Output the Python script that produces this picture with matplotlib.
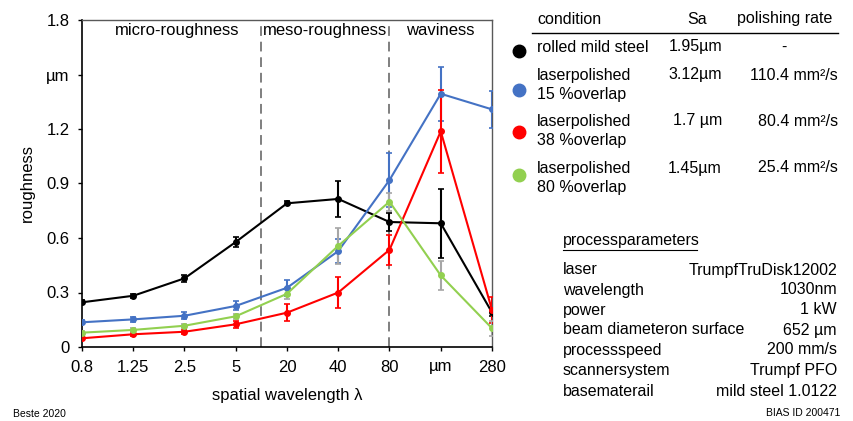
import numpy as np
import matplotlib.pyplot as plt
from matplotlib.lines import Line2D

plt.rcParams['font.family'] = ['Liberation Sans', 'DejaVu Sans']

# spatial wavelength categories
wavelengths = ['0.8', '1.25', '2.5', '5', '20', '40', '80', 'µm', '280']

rolled = [0.246, 0.282, 0.378, 0.578, 0.791, 0.815, 0.688, 0.681, 0.190]
rolled_err = [0.01, 0.01, 0.02, 0.03, 0.01, 0.10, 0.05, 0.19, 0.02]

lp15 = [0.136, 0.152, 0.172, 0.226, 0.326, 0.528, 0.919, 1.394, 1.308]
lp15_err = [0.01, 0.015, 0.02, 0.025, 0.045, 0.065, 0.147, 0.15, 0.10]

lp38 = [0.048, 0.070, 0.084, 0.125, 0.189, 0.300, 0.535, 1.187, 0.204]
lp38_err = [0.01, 0.01, 0.01, 0.02, 0.046, 0.085, 0.082, 0.23, 0.07]

lp80 = [0.079, 0.094, 0.117, 0.169, 0.293, 0.557, 0.800, 0.394, 0.103]
lp80_err = [0.01, 0.01, 0.01, 0.015, 0.03, 0.10, 0.05, 0.08, 0.04]

yticks = [0, 0.3, 0.6, 0.9, 1.2, 1.5, 1.8]
ytick_labels = ['0', '0.3', '0.6', '0.9', '1.2', 'µm', '1.8']

conditions = ['rolled mild steel', 'laserpolished\n15 %overlap',
              'laserpolished\n38 %overlap', 'laserpolished\n80 %overlap']
sa_values = ['1.95µm', '3.12µm', '1.7 µm', '1.45µm']
rates = ['-', '110.4 mm²/s', '80.4 mm²/s', '25.4 mm²/s']
colors = ['black', '#4472C4', '#FF0000', '#92D050']
err_colors = ['black', '#4472C4', '#FF0000', '#A6A6A6']

param_names = ['laser', 'wavelength', 'power', 'beam diameteron surface',
               'processspeed', 'scannersystem', 'basematerail']
param_values = ['TrumpfTruDisk12002', '1030nm', '1 kW', '652 µm',
                '200 mm/s', 'Trumpf PFO', 'mild steel 1.0122']

W, H = 854, 421
fig = plt.figure(figsize=(W / 100, H / 100), dpi=100)
ax = fig.add_axes([82 / W, 1 - 347 / H, 410 / W, 327 / H])

x = np.arange(len(wavelengths))
series = [rolled, lp15, lp38, lp80]
errors = [rolled_err, lp15_err, lp38_err, lp80_err]
for vals, errs, c, ec in zip(series, errors, colors, err_colors):
    ax.errorbar(x, vals, yerr=errs, color=c, ecolor=ec, lw=1.5, elinewidth=1.5,
                capsize=2.5, capthick=1.2, marker='o', ms=4, zorder=3)

# region separators
for xv in [3.5, 6]:
    ax.axvline(xv, color='#7F7F7F', ls=(0, (5, 3)), lw=1.4, zorder=1)

ax.set_xlim(0, 8)
ax.set_ylim(0, 1.8)
ax.set_xticks(x)
ax.set_xticklabels(wavelengths, fontsize=12)
ax.set_yticks(yticks)
ax.set_yticklabels(ytick_labels, fontsize=12)
ax.tick_params(direction='out', length=3, width=1, pad=6)
ax.set_xlabel('spatial wavelength λ', fontsize=12, labelpad=10)
ax.set_ylabel('roughness', fontsize=12, labelpad=8)
for side in ['top', 'right']:
    ax.spines[side].set_color('#595959')
    ax.spines[side].set_linewidth(1)
for side in ['left', 'bottom']:
    ax.spines[side].set_color('black')
    ax.spines[side].set_linewidth(1.2)

ax.text(1.85, 1.74, 'micro-roughness', ha='center', va='center', fontsize=12)
ax.text(4.75, 1.74, 'meso-roughness', ha='center', va='center', fontsize=12)
ax.text(7.0, 1.74, 'waviness', ha='center', va='center', fontsize=12)

# overlay in pixel coordinates for the tables
ov = fig.add_axes([0, 0, 1, 1], facecolor='none')
ov.set_xlim(0, W)
ov.set_ylim(H, 0)
ov.axis('off')

fs = 11.5
ov.text(537, 19, 'condition', fontsize=fs, va='center')
ov.text(697, 19, 'Sa', fontsize=fs, va='center', ha='center')
ov.text(785, 19, 'polishing rate', fontsize=fs, va='center', ha='center')
ov.add_line(Line2D([532, 838], [33, 33], color='black', lw=1))

marker_y = [51, 90, 132, 175]
text_y = [47, 85, 131, 178]
for i in range(4):
    ov.plot(519, marker_y[i], 'o', color=colors[i], ms=9)
    ov.text(537, text_y[i], conditions[i], fontsize=fs, va='center',
            linespacing=1.3)
    first_y = text_y[i] - (10 if '\n' in conditions[i] else 0)
    ov.text(722, first_y, sa_values[i], fontsize=fs, va='center', ha='right')
    if rates[i] == '-':
        ov.text(784, first_y, rates[i], fontsize=fs, va='center', ha='center')
    else:
        ov.text(838, first_y, rates[i], fontsize=fs, va='center', ha='right')

ov.text(563, 241, 'processparameters', fontsize=fs, va='center')
ov.add_line(Line2D([563, 697], [250, 250], color='black', lw=0.8))
param_y = [270, 290, 310, 330, 350, 371, 392]
for name, val, yy in zip(param_names, param_values, param_y):
    ov.text(563, yy, name, fontsize=fs, va='center')
    ov.text(837, yy, val, fontsize=fs, va='center', ha='right')

ov.text(13, 414, 'Beste 2020', fontsize=7.5, va='center')
ov.text(840, 413, 'BIAS ID 200471', fontsize=7.5, va='center', ha='right')

fig.savefig('out.png', dpi=100)
